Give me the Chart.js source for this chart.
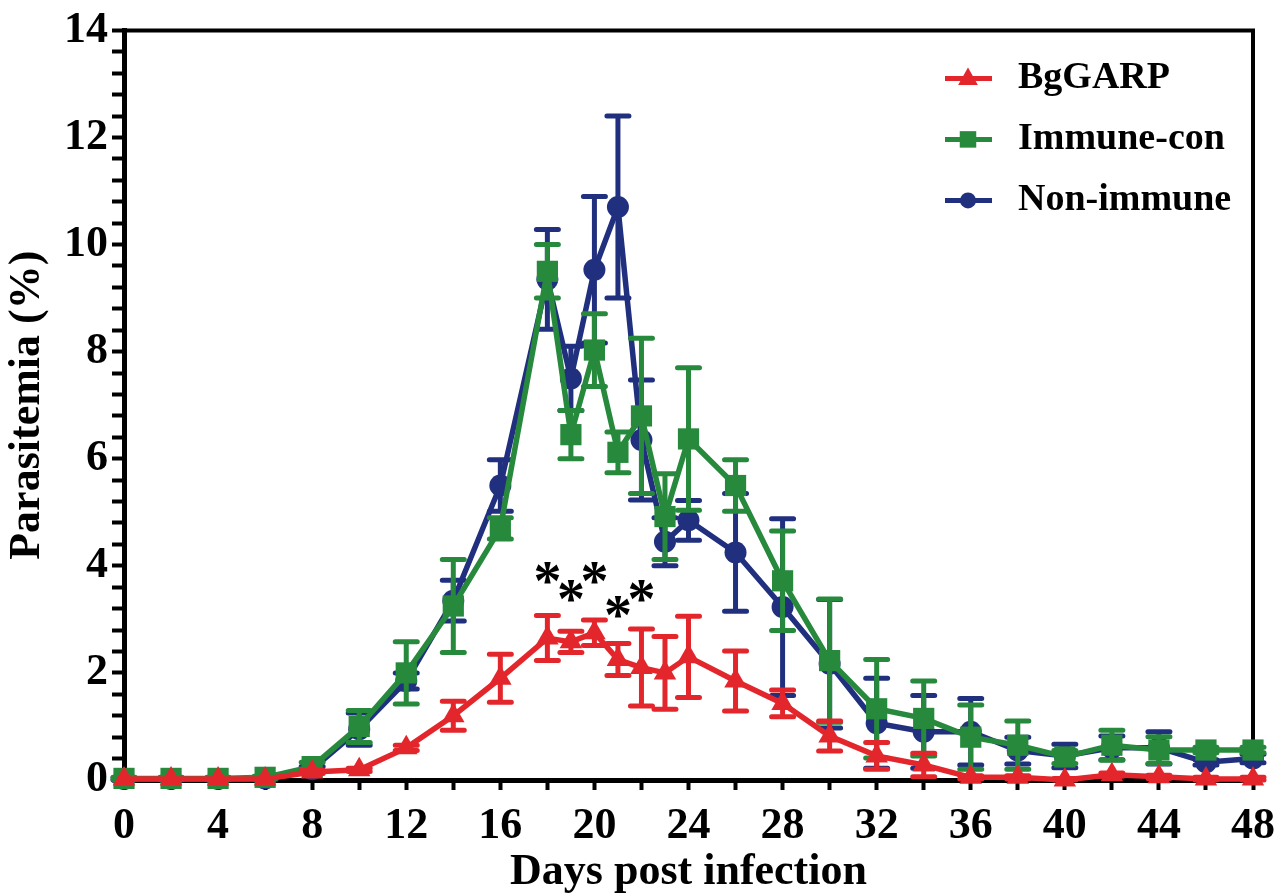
<!DOCTYPE html>
<html>
<head>
<meta charset="utf-8">
<title>Parasitemia</title>
<script src="https://cdn.jsdelivr.net/npm/chart.js@4.4.1/dist/chart.umd.min.js"></script>
<style>
  html, body { margin: 0; padding: 0; background: #ffffff; }
</style>
</head>
<body>
<canvas id="canvas"></canvas>
<script>
// days post infection (x values)
let days = [0, 2, 4, 6, 8, 10, 12, 14, 16, 18, 19, 20, 21, 22, 23, 24, 26, 28, 30, 32, 34, 36, 38, 40, 42, 44, 46, 48];

// mean parasitemia (%)
let garp      = [0.02, 0.02, 0.02, 0.02, 0.15, 0.19, 0.6, 1.2, 1.9, 2.65, 2.58, 2.75, 2.25, 2.1, 2.0, 2.3, 1.85, 1.43, 0.82, 0.45, 0.28, 0.05, 0.05, 0.0, 0.1, 0.06, 0.02, 0.02];
let immuneCon = [0.03, 0.03, 0.03, 0.05, 0.25, 1.0, 2.0, 3.25, 4.7, 9.5, 6.45, 8.03, 6.12, 6.8, 4.92, 6.37, 5.5, 3.72, 2.23, 1.33, 1.15, 0.8, 0.65, 0.43, 0.65, 0.56, 0.56, 0.56];
let nonImmune = [0.02, 0.02, 0.02, 0.03, 0.2, 0.95, 1.85, 3.35, 5.5, 9.35, 7.5, 9.53, 10.7, 6.35, 4.45, 4.85, 4.25, 3.23, 2.17, 1.06, 0.9, 0.9, 0.55, 0.45, 0.6, 0.6, 0.33, 0.4];

// error bars (+/-)
let garpErr      = [0, 0, 0, 0, 0.03, 0.03, 0.05, 0.27, 0.45, 0.42, 0.2, 0.24, 0.3, 0.72, 0.68, 0.76, 0.56, 0.25, 0.28, 0.25, 0.22, 0.03, 0.03, 0.03, 0.03, 0.03, 0.03, 0.03];
let immuneConErr = [0.02, 0.02, 0.02, 0.02, 0.08, 0.3, 0.58, 0.87, 0.2, 0.5, 0.45, 0.68, 0.38, 1.45, 0.8, 1.33, 0.48, 0.93, 1.15, 0.92, 0.7, 0.6, 0.45, 0.12, 0.28, 0.25, 0.05, 0.05];
let nonImmuneErr = [0.02, 0.02, 0.02, 0.02, 0.05, 0.3, 0.15, 0.38, 0.48, 0.93, 0.6, 1.37, 1.7, 1.12, 0.45, 0.37, 1.1, 1.65, 1.2, 0.84, 0.68, 0.62, 0.25, 0.22, 0.22, 0.3, 0.05, 0.08];

let seriesNames = ['BgGARP', 'Immune-con', 'Non-immune'];

// significance marks (day, height in %)
let starDays = [18, 19, 20, 21, 22];
let starLevels = [3.87, 3.53, 3.87, 3.23, 3.53];

let red = '#e3262b';
let green = '#27893c';
let blue = '#20307e';
let serif = '"Liberation Serif", "Times New Roman", serif';

function points(values) {
  return days.map((d, i) => ({ x: d, y: values[i] }));
}

// draw the error bars under each line
let errorBars = {
  id: 'errorBars',
  beforeDatasetDraw(chart, args) {
    let ds = chart.data.datasets[args.index];
    let xs = chart.scales.x, ys = chart.scales.y;
    let ctx = chart.ctx;
    ctx.save();
    ctx.strokeStyle = ds.borderColor;
    ctx.lineWidth = 5;
    ctx.lineCap = 'round';
    ds.data.forEach((p, i) => {
      let e = ds.errors[i];
      if (!e) return;
      let px = xs.getPixelForValue(p.x);
      let top = ys.getPixelForValue(p.y + e);
      let bot = ys.getPixelForValue(Math.max(p.y - e, 0));
      ctx.beginPath();
      ctx.moveTo(px, top); ctx.lineTo(px, bot);
      ctx.moveTo(px - 11, top); ctx.lineTo(px + 11, top);
      ctx.moveTo(px - 11, bot); ctx.lineTo(px + 11, bot);
      ctx.stroke();
    });
    ctx.restore();
  }
};

// top and right frame lines
let frame = {
  id: 'frame',
  beforeDatasetsDraw(chart) {
    let a = chart.chartArea, ctx = chart.ctx;
    ctx.save();
    ctx.strokeStyle = '#000';
    ctx.lineWidth = 4;
    ctx.beginPath();
    ctx.moveTo(a.left, a.top); ctx.lineTo(a.right, a.top); ctx.lineTo(a.right, a.bottom);
    ctx.stroke();
    ctx.restore();
  }
};

function marker(ctx, style, x, y, r) {
  ctx.beginPath();
  if (style === 'circle') {
    ctx.arc(x, y, r, 0, Math.PI * 2);
  } else if (style === 'rect') {
    ctx.rect(x - r * 0.75, y - r * 0.75, r * 1.5, r * 1.5);
  } else {
    ctx.moveTo(x, y - r);
    ctx.lineTo(x + r * 0.9, y + r * 0.6);
    ctx.lineTo(x - r * 0.9, y + r * 0.6);
    ctx.closePath();
  }
  ctx.fill();
}

// legend and asterisks
let extras = {
  id: 'extras',
  afterDraw(chart) {
    let a = chart.chartArea, ctx = chart.ctx;
    ctx.save();
    chart.data.datasets.forEach((ds, i) => {
      let ly = a.top + 48 + i * 61;
      let lx = a.right - 308;
      ctx.strokeStyle = ds.borderColor;
      ctx.fillStyle = ds.borderColor;
      ctx.lineWidth = 5;
      ctx.beginPath();
      ctx.moveTo(lx, ly); ctx.lineTo(lx + 47, ly);
      ctx.stroke();
      marker(ctx, ds.pointStyle, lx + 23, ly, ds.pointStyle === 'circle' ? 8 : 11);
      ctx.fillStyle = '#000';
      ctx.font = 'bold 38px ' + serif;
      ctx.textAlign = 'left';
      ctx.textBaseline = 'middle';
      ctx.fillText(ds.label, a.right - 235, ly);
    });

    ctx.font = 'bold 56px ' + serif;
    ctx.textAlign = 'center';
    ctx.textBaseline = 'alphabetic';
    let m = ctx.measureText('*');
    let shift = (m.actualBoundingBoxAscent - m.actualBoundingBoxDescent) / 2;
    ctx.fillStyle = '#000';
    starDays.forEach((d, i) => {
      let px = chart.scales.x.getPixelForValue(d);
      let py = chart.scales.y.getPixelForValue(starLevels[i]);
      ctx.fillText('*', px, py + shift);
    });
    ctx.restore();
  }
};

let datasets = [
  { label: seriesNames[0], data: points(garp), errors: garpErr, borderColor: red, backgroundColor: red, pointStyle: 'triangle', pointRadius: 13 },
  { label: seriesNames[1], data: points(immuneCon), errors: immuneConErr, borderColor: green, backgroundColor: green, pointStyle: 'rect', pointRadius: 15 },
  { label: seriesNames[2], data: points(nonImmune), errors: nonImmuneErr, borderColor: blue, backgroundColor: blue, pointStyle: 'circle', pointRadius: 11 }
];
datasets.forEach(ds => {
  ds.borderWidth = 5.5;
  ds.pointBorderWidth = 0;
  ds.pointBackgroundColor = ds.borderColor;
  ds.tension = 0;
  ds.clip = false;
});

let tickFont = { family: serif, size: 44, weight: 'bold' };

let options = {
  type: 'line',
  data: { datasets: datasets },
  options: {
    animation: false,
    responsive: false,
    layout: { padding: { top: 27, right: 34, left: 0, bottom: 0 } },
    plugins: { legend: { display: false }, tooltip: { enabled: false } },
    scales: {
      x: {
        type: 'linear',
        min: 0,
        max: 48,
        afterFit(scale) { scale.height = 116; },
        ticks: {
          stepSize: 2,
          autoSkip: false,
          maxRotation: 0,
          color: '#000',
          font: tickFont,
          padding: 10,
          callback: v => (v % 4 === 0 ? String(v) : '')
        },
        grid: { drawOnChartArea: false, drawTicks: true, tickLength: 10, tickWidth: 4, tickColor: '#000' },
        border: { display: true, width: 5, color: '#000' },
        title: {
          display: true,
          text: 'Days post infection',
          color: '#000',
          font: { family: serif, size: 44, weight: 'bold', lineHeight: 1 },
          padding: { top: 0, bottom: 1 }
        }
      },
      y: {
        min: 0,
        max: 14,
        afterFit(scale) { scale.width = 124; },
        ticks: {
          stepSize: 0.4,
          autoSkip: false,
          color: '#000',
          font: tickFont,
          padding: 4,
          callback: v => (Math.abs(v / 2 - Math.round(v / 2)) < 1e-6 ? String(Math.round(v)) : '')
        },
        grid: { drawOnChartArea: false, drawTicks: true, tickLength: 12, tickWidth: 4, tickColor: '#000' },
        border: { display: true, width: 5, color: '#000' },
        title: {
          display: true,
          text: 'Parasitemia (%)',
          color: '#000',
          font: { family: serif, size: 44, weight: 'bold', lineHeight: 1 },
          padding: { top: 6, bottom: 0 }
        }
      }
    }
  },
  plugins: [errorBars, frame, extras]
};

let canvas = document.getElementById('canvas');
canvas.width = 1287;
canvas.height = 896;

let chart = new Chart(canvas, options);
</script>
</body>
</html>
